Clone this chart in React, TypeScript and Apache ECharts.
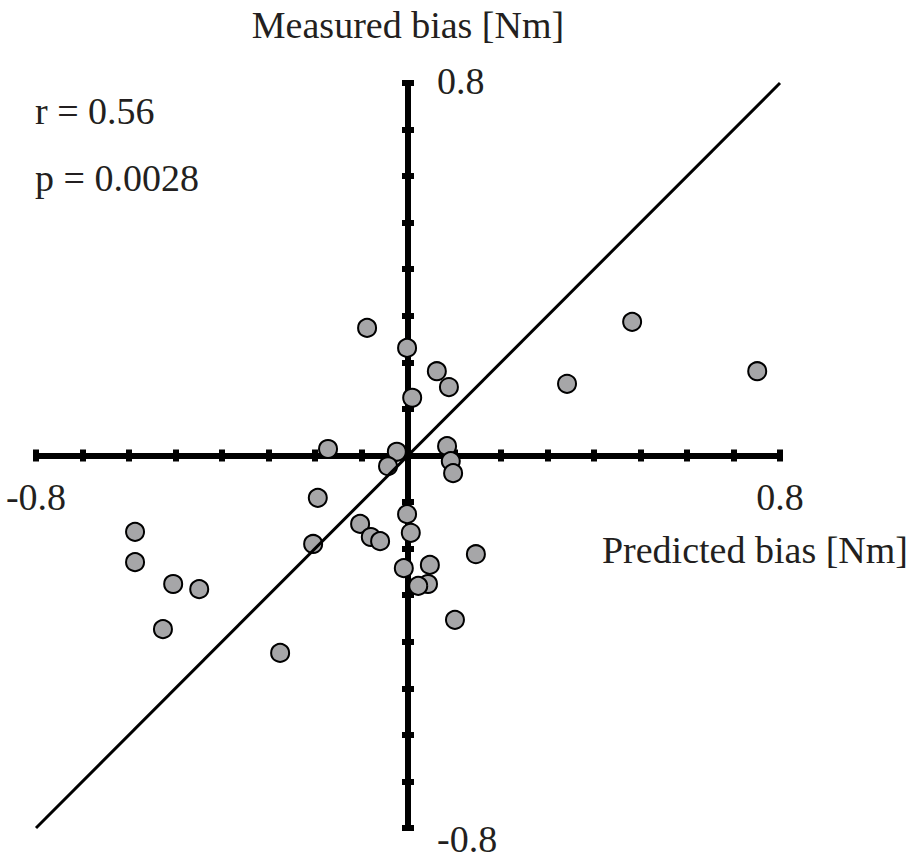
import { useEffect, useRef } from "react";
import * as echarts from "echarts";

// Predicted vs. measured torque bias for each trial [Nm]
const predicted = [
  -0.088, -0.002, 0.062, 0.088, 0.009, 0.482, 0.342, 0.751,
  -0.172, -0.024, -0.043, 0.084, 0.092, 0.097, -0.194, -0.002,
  0.006, -0.103, -0.08, -0.06, -0.204, -0.587, -0.587, -0.505,
  -0.449, -0.527, -0.275, 0.146, 0.047, -0.009, 0.043, 0.022, 0.101,
];
const measured = [
  0.274, 0.231, 0.181, 0.147, 0.124, 0.287, 0.154, 0.181,
  0.014, 0.008, -0.023, 0.02, -0.012, -0.038, -0.091, -0.126,
  -0.166, -0.147, -0.175, -0.184, -0.19, -0.164, -0.229, -0.276,
  -0.287, -0.373, -0.424, -0.212, -0.235, -0.242, -0.276, -0.28, -0.353,
];

// Identity line (measured = predicted)
const identityX = [-0.8, 0.8];
const identityY = [-0.8, 0.8];

const axisMin = -0.8;
const axisMax = 0.8;
const tickStep = 0.1;
// Only the axis ends carry a label
const tickValues = [-0.8, 0.8];
const tickLabels = ["-0.8", "0.8"];

const statTexts = ["r = 0.56", "p = 0.0028"];
const xTitle = "Predicted bias [Nm]";
const yTitle = "Measured bias [Nm]";

const FONT_FAMILY = "'Liberation Serif', 'Times New Roman', serif";
const TEXT_COLOR = "#231f20";
const FONT_SIZE = 38;
const FONT = `${FONT_SIZE}px ${FONT_FAMILY}`;

function baseAxis(insideTicks: boolean, position: "bottom" | "left") {
  return {
    type: "value" as const,
    position,
    min: axisMin,
    max: axisMax,
    interval: tickStep,
    splitLine: { show: false },
    axisLabel: { show: false },
    axisLine: {
      onZero: true,
      onZeroAxisIndex: 0,
      lineStyle: { color: "#000", width: 6 },
    },
    axisTick: {
      inside: insideTicks,
      length: 6,
      lineStyle: { color: "#000", width: 6 },
    },
  };
}

function textEl(text: string, x: number, y: number, align: string) {
  return {
    type: "text",
    x,
    y,
    z: 10,
    style: { text, font: FONT, fill: TEXT_COLOR, align, verticalAlign: "middle" },
  };
}

export default function App() {
  const ref = useRef<HTMLDivElement>(null);

  useEffect(() => {
    if (!ref.current) return;
    const chart = echarts.init(ref.current, undefined, { renderer: "svg" });

    const points = predicted.map((x, i) => [x, measured[i]]);
    const line = identityX.map((x, i) => [x, identityY[i]]);

    chart.setOption({
      animation: false,
      backgroundColor: "#fff",
      grid: {
        left: 36,
        top: 83,
        width: 744,
        height: 745,
        outerBoundsMode: "none",
        containLabel: false,
      },
      // Two copies of each axis so that the ticks cross the line on both sides
      xAxis: [baseAxis(false, "bottom"), baseAxis(true, "bottom")],
      yAxis: [baseAxis(false, "left"), baseAxis(true, "left")],
      series: [
        {
          type: "scatter",
          data: points,
          symbol: "circle",
          symbolSize: 18,
          z: 3,
          itemStyle: { color: "#a6a6a8", borderColor: "#000", borderWidth: 2, opacity: 1 },
          emphasis: { disabled: true },
        },
        {
          type: "line",
          data: line,
          symbol: "none",
          z: 4,
          lineStyle: { color: "#000", width: 3 },
          emphasis: { disabled: true },
        },
      ],
    });

    // End labels sit beside the crossing axes, placed through the grid's scales
    const px = (x: number, y: number) =>
      chart.convertToPixel({ gridIndex: 0 }, [x, y]) as number[];
    const labels: any[] = [];
    tickValues.forEach((v, i) => {
      const [ax, ay] = px(v, 0);
      labels.push(textEl(tickLabels[i], ax, ay + 41, "center"));
    });
    tickValues.forEach((v, i) => {
      const [bx, by] = px(0, v);
      labels.push(textEl(tickLabels[i], bx + 29, v < 0 ? by + 11 : by - 2, "left"));
    });

    chart.setOption({
      graphic: [
        ...labels,
        textEl(yTitle, 408, 25, "center"),
        textEl(xTitle, 908, 550, "right"),
        ...statTexts.map((t, i) => textEl(t, 35, i === 0 ? 111 : 178, "left")),
      ],
    });

    return () => chart.dispose();
  }, []);

  return (
    <div
      ref={ref}
      style={{ position: "absolute", left: 0, top: 0, width: 914, height: 859 }}
    />
  );
}
